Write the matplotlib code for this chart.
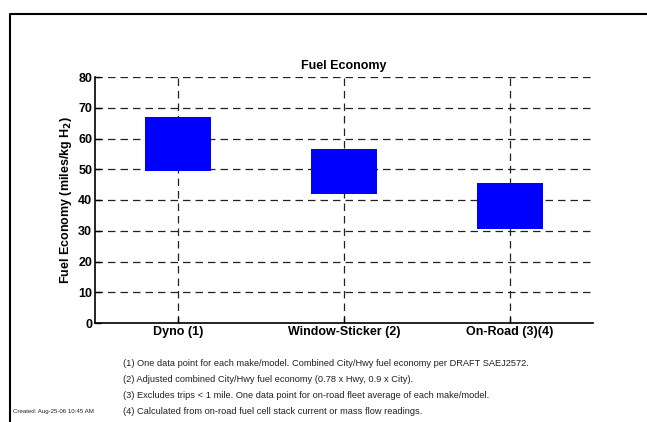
import numpy as np
import matplotlib
matplotlib.use('Agg')
import matplotlib.pyplot as plt
from matplotlib.lines import Line2D

categories = ["Dyno (1)", "Window-Sticker (2)", "On-Road (3)(4)"]
range_low = [49.4, 42.0, 30.7]
range_high = [67.0, 56.7, 45.4]
yticks = [0, 10, 20, 30, 40, 50, 60, 70, 80]

footnotes = [
    "(1) One data point for each make/model. Combined City/Hwy fuel economy per DRAFT SAEJ2572.",
    "(2) Adjusted combined City/Hwy fuel economy (0.78 x Hwy, 0.9 x City).",
    "(3) Excludes trips < 1 mile. One data point for on-road fleet average of each make/model.",
    "(4) Calculated from on-road fuel cell stack current or mass flow readings.",
]
created = "Created: Aug-25-06 10:45 AM"

plt.rcParams['font.family'] = ['Liberation Sans', 'DejaVu Sans']

W, H = 647, 422
fig = plt.figure(figsize=(W / 100, H / 100), dpi=100)
ax = fig.add_axes([95 / W, 1 - 323 / H, (593 - 95) / W, (323 - 77) / H])

x = np.arange(1, len(categories) + 1)
heights = np.array(range_high) - np.array(range_low)
ax.bar(x, heights, bottom=range_low, width=0.4, color='#0000ff', zorder=3)

ax.set_xlim(0.5, 3.5)
ax.set_ylim(0, 80)
ax.set_xticks(x)
ax.set_xticklabels(categories, fontweight='bold', fontsize=9)
ax.set_yticks(yticks)
ax.set_yticklabels([str(t) for t in yticks], fontweight='bold', fontsize=9)
ax.tick_params(direction='in', length=4, width=1, pad=2)
ax.grid(True, color='#222222', linestyle=(0, (6, 4)), linewidth=0.9, zorder=0)
ax.set_axisbelow(True)
for s in ['top', 'right']:
    ax.spines[s].set_visible(False)
for s in ['left', 'bottom']:
    ax.spines[s].set_linewidth(1.2)

ax.set_title("Fuel Economy", fontweight='bold', fontsize=9, pad=6)
ax.set_ylabel("Fuel Economy (miles/kg H$_\\mathbf{2}$)", fontweight='bold', fontsize=9, labelpad=3)

# outer frame (top and left edges)
fig.add_artist(Line2D([9.5 / W, 9.5 / W, 1], [0, 1 - 14 / H, 1 - 14 / H],
                      transform=fig.transFigure, color='black', linewidth=1.5))

fn_family = ['Liberation Sans Narrow', 'Liberation Sans', 'DejaVu Sans']
for i, t in enumerate(footnotes):
    fig.text(123 / W, 1 - (364 + 15.7 * i) / H, t, fontsize=6.65, family=fn_family,
             va='center', ha='left', color='#222222')
fig.text(13 / W, 1 - 411 / H, created, fontsize=4.4, family=fn_family, va='center', ha='left',
         color='#222222')

fig.savefig("out.png", dpi=100)
